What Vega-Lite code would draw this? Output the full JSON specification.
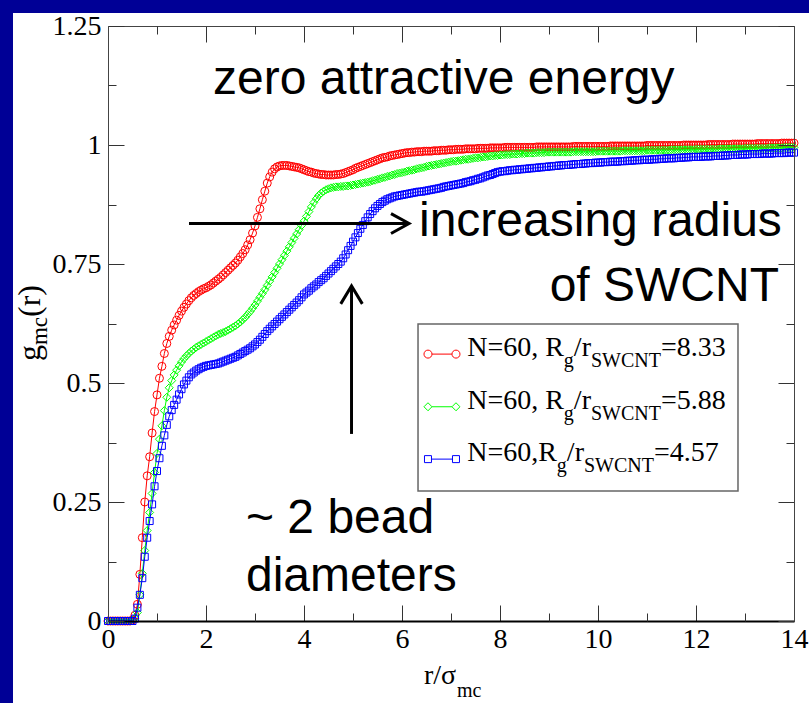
{
"$schema": "https://vega.github.io/schema/vega-lite/v6.json",
"width": 686, "height": 595,
"padding": {"left": 12, "top": 12, "right": 0, "bottom": 0},
"background": "#000096",
"config": {"view": {"stroke": null}, "font": "Liberation Serif"},
"datasets": {
"red": [{"r":0,"g":0},{"r":0.05,"g":0},{"r":0.1,"g":0},{"r":0.15,"g":0},{"r":0.2,"g":0},{"r":0.25,"g":0},{"r":0.3,"g":0},{"r":0.35,"g":0},{"r":0.4,"g":0},{"r":0.45,"g":0},
{"r":0.5,"g":0.002},{"r":0.55,"g":0.012},{"r":0.6,"g":0.035},{"r":0.65,"g":0.098},{"r":0.7,"g":0.175},{"r":0.75,"g":0.25},{"r":0.8,"g":0.305},{"r":0.85,"g":0.345},{"r":0.9,"g":0.395},{"r":0.95,"g":0.44},
{"r":1,"g":0.475},{"r":1.05,"g":0.51},{"r":1.1,"g":0.535},{"r":1.15,"g":0.562},{"r":1.2,"g":0.583},{"r":1.25,"g":0.598},{"r":1.3,"g":0.611},{"r":1.35,"g":0.622},{"r":1.4,"g":0.632},{"r":1.45,"g":0.642},
{"r":1.5,"g":0.651},{"r":1.55,"g":0.659},{"r":1.6,"g":0.666},{"r":1.65,"g":0.673},{"r":1.7,"g":0.679},{"r":1.75,"g":0.684},{"r":1.8,"g":0.688},{"r":1.85,"g":0.692},{"r":1.9,"g":0.695},{"r":1.95,"g":0.698},
{"r":2,"g":0.7},{"r":2.05,"g":0.703},{"r":2.1,"g":0.706},{"r":2.15,"g":0.71},{"r":2.2,"g":0.714},{"r":2.25,"g":0.718},{"r":2.3,"g":0.722},{"r":2.35,"g":0.727},{"r":2.4,"g":0.732},{"r":2.45,"g":0.737},
{"r":2.5,"g":0.742},{"r":2.55,"g":0.747},{"r":2.6,"g":0.752},{"r":2.65,"g":0.758},{"r":2.7,"g":0.765},{"r":2.75,"g":0.772},{"r":2.8,"g":0.78},{"r":2.85,"g":0.79},{"r":2.9,"g":0.801},{"r":2.95,"g":0.815},
{"r":3,"g":0.83},{"r":3.05,"g":0.848},{"r":3.1,"g":0.866},{"r":3.15,"g":0.885},{"r":3.2,"g":0.903},{"r":3.25,"g":0.92},{"r":3.3,"g":0.933},{"r":3.35,"g":0.943},{"r":3.4,"g":0.95},{"r":3.45,"g":0.954},
{"r":3.5,"g":0.956},{"r":3.55,"g":0.957},{"r":3.6,"g":0.957},{"r":3.65,"g":0.957},{"r":3.7,"g":0.956},{"r":3.75,"g":0.955},{"r":3.8,"g":0.954},{"r":3.85,"g":0.953},{"r":3.9,"g":0.952},{"r":3.95,"g":0.95},
{"r":4,"g":0.948},{"r":4.05,"g":0.946},{"r":4.1,"g":0.944},{"r":4.15,"g":0.943},{"r":4.2,"g":0.941},{"r":4.25,"g":0.94},{"r":4.3,"g":0.939},{"r":4.35,"g":0.938},{"r":4.4,"g":0.938},{"r":4.45,"g":0.937},
{"r":4.5,"g":0.937},{"r":4.55,"g":0.937},{"r":4.6,"g":0.937},{"r":4.65,"g":0.938},{"r":4.7,"g":0.938},{"r":4.75,"g":0.939},{"r":4.8,"g":0.94},{"r":4.85,"g":0.942},{"r":4.9,"g":0.944},{"r":4.95,"g":0.946},
{"r":5,"g":0.948},{"r":5.05,"g":0.951},{"r":5.1,"g":0.953},{"r":5.15,"g":0.955},{"r":5.2,"g":0.957},{"r":5.25,"g":0.959},{"r":5.3,"g":0.961},{"r":5.35,"g":0.963},{"r":5.4,"g":0.965},{"r":5.45,"g":0.967},
{"r":5.5,"g":0.969},{"r":5.55,"g":0.971},{"r":5.6,"g":0.973},{"r":5.65,"g":0.974},{"r":5.7,"g":0.975},{"r":5.75,"g":0.977},{"r":5.8,"g":0.978},{"r":5.85,"g":0.979},{"r":5.9,"g":0.98},{"r":5.95,"g":0.981},
{"r":6,"g":0.982},{"r":6.05,"g":0.983},{"r":6.1,"g":0.984},{"r":6.15,"g":0.984},{"r":6.2,"g":0.985},{"r":6.25,"g":0.985},{"r":6.3,"g":0.986},{"r":6.35,"g":0.986},{"r":6.4,"g":0.986},{"r":6.45,"g":0.987},
{"r":6.5,"g":0.987},{"r":6.55,"g":0.987},{"r":6.6,"g":0.987},{"r":6.65,"g":0.988},{"r":6.7,"g":0.988},{"r":6.75,"g":0.988},{"r":6.8,"g":0.989},{"r":6.85,"g":0.989},{"r":6.9,"g":0.989},{"r":6.95,"g":0.99},
{"r":7,"g":0.99},{"r":7.05,"g":0.99},{"r":7.1,"g":0.991},{"r":7.15,"g":0.991},{"r":7.2,"g":0.991},{"r":7.25,"g":0.991},{"r":7.3,"g":0.992},{"r":7.35,"g":0.992},{"r":7.4,"g":0.992},{"r":7.45,"g":0.992},
{"r":7.5,"g":0.992},{"r":7.55,"g":0.993},{"r":7.6,"g":0.993},{"r":7.65,"g":0.993},{"r":7.7,"g":0.993},{"r":7.75,"g":0.993},{"r":7.8,"g":0.994},{"r":7.85,"g":0.994},{"r":7.9,"g":0.994},{"r":7.95,"g":0.994},
{"r":8,"g":0.994},{"r":8.05,"g":0.994},{"r":8.1,"g":0.995},{"r":8.15,"g":0.995},{"r":8.2,"g":0.995},{"r":8.25,"g":0.995},{"r":8.3,"g":0.995},{"r":8.35,"g":0.995},{"r":8.4,"g":0.995},{"r":8.45,"g":0.995},
{"r":8.5,"g":0.995},{"r":8.55,"g":0.995},{"r":8.6,"g":0.995},{"r":8.65,"g":0.995},{"r":8.7,"g":0.995},{"r":8.75,"g":0.996},{"r":8.8,"g":0.996},{"r":8.85,"g":0.996},{"r":8.9,"g":0.996},{"r":8.95,"g":0.996},
{"r":9,"g":0.996},{"r":9.05,"g":0.996},{"r":9.1,"g":0.996},{"r":9.15,"g":0.996},{"r":9.2,"g":0.996},{"r":9.25,"g":0.996},{"r":9.3,"g":0.996},{"r":9.35,"g":0.996},{"r":9.4,"g":0.996},{"r":9.45,"g":0.996},
{"r":9.5,"g":0.997},{"r":9.55,"g":0.997},{"r":9.6,"g":0.997},{"r":9.65,"g":0.997},{"r":9.7,"g":0.997},{"r":9.75,"g":0.997},{"r":9.8,"g":0.997},{"r":9.85,"g":0.997},{"r":9.9,"g":0.997},{"r":9.95,"g":0.997},
{"r":10,"g":0.997},{"r":10.05,"g":0.997},{"r":10.1,"g":0.997},{"r":10.15,"g":0.997},{"r":10.2,"g":0.997},{"r":10.25,"g":0.998},{"r":10.3,"g":0.998},{"r":10.35,"g":0.998},{"r":10.4,"g":0.998},{"r":10.45,"g":0.998},
{"r":10.5,"g":0.998},{"r":10.55,"g":0.998},{"r":10.6,"g":0.998},{"r":10.65,"g":0.998},{"r":10.7,"g":0.998},{"r":10.75,"g":0.998},{"r":10.8,"g":0.998},{"r":10.85,"g":0.998},{"r":10.9,"g":0.998},{"r":10.95,"g":0.998},
{"r":11,"g":0.999},{"r":11.05,"g":0.999},{"r":11.1,"g":0.999},{"r":11.15,"g":0.999},{"r":11.2,"g":0.999},{"r":11.25,"g":0.999},{"r":11.3,"g":0.999},{"r":11.35,"g":0.999},{"r":11.4,"g":0.999},{"r":11.45,"g":0.999},
{"r":11.5,"g":0.999},{"r":11.55,"g":0.999},{"r":11.6,"g":0.999},{"r":11.65,"g":0.999},{"r":11.7,"g":0.999},{"r":11.75,"g":1},{"r":11.8,"g":1},{"r":11.85,"g":1},{"r":11.9,"g":1},{"r":11.95,"g":1},
{"r":12,"g":1},{"r":12.05,"g":1},{"r":12.1,"g":1},{"r":12.15,"g":1},{"r":12.2,"g":1},{"r":12.25,"g":1.001},{"r":12.3,"g":1.001},{"r":12.35,"g":1.001},{"r":12.4,"g":1.001},{"r":12.45,"g":1.001},
{"r":12.5,"g":1.001},{"r":12.55,"g":1.001},{"r":12.6,"g":1.001},{"r":12.65,"g":1.001},{"r":12.7,"g":1.001},{"r":12.75,"g":1.002},{"r":12.8,"g":1.002},{"r":12.85,"g":1.002},{"r":12.9,"g":1.002},{"r":12.95,"g":1.002},
{"r":13,"g":1.002},{"r":13.05,"g":1.002},{"r":13.1,"g":1.002},{"r":13.15,"g":1.002},{"r":13.2,"g":1.002},{"r":13.25,"g":1.003},{"r":13.3,"g":1.003},{"r":13.35,"g":1.003},{"r":13.4,"g":1.003},{"r":13.45,"g":1.003},
{"r":13.5,"g":1.003},{"r":13.55,"g":1.003},{"r":13.6,"g":1.003},{"r":13.65,"g":1.003},{"r":13.7,"g":1.003},{"r":13.75,"g":1.004},{"r":13.8,"g":1.004},{"r":13.85,"g":1.004},{"r":13.9,"g":1.004},{"r":13.95,"g":1.004},{"r":14,"g":1.004}],
"green": [{"r":0,"g":0},{"r":0.05,"g":0},{"r":0.1,"g":0},{"r":0.15,"g":0},{"r":0.2,"g":0},{"r":0.25,"g":0},{"r":0.3,"g":0},{"r":0.35,"g":0},{"r":0.4,"g":0},{"r":0.45,"g":0},
{"r":0.5,"g":0.001},{"r":0.55,"g":0.006},{"r":0.6,"g":0.018},{"r":0.65,"g":0.055},{"r":0.7,"g":0.1},{"r":0.75,"g":0.148},{"r":0.8,"g":0.19},{"r":0.85,"g":0.228},{"r":0.9,"g":0.268},{"r":0.95,"g":0.312},
{"r":1,"g":0.352},{"r":1.05,"g":0.382},{"r":1.1,"g":0.41},{"r":1.15,"g":0.442},{"r":1.2,"g":0.47},{"r":1.25,"g":0.49},{"r":1.3,"g":0.505},{"r":1.35,"g":0.517},{"r":1.4,"g":0.527},{"r":1.45,"g":0.536},
{"r":1.5,"g":0.544},{"r":1.55,"g":0.551},{"r":1.6,"g":0.557},{"r":1.65,"g":0.562},{"r":1.7,"g":0.567},{"r":1.75,"g":0.571},{"r":1.8,"g":0.575},{"r":1.85,"g":0.578},{"r":1.9,"g":0.581},{"r":1.95,"g":0.584},
{"r":2,"g":0.587},{"r":2.05,"g":0.59},{"r":2.1,"g":0.593},{"r":2.15,"g":0.596},{"r":2.2,"g":0.599},{"r":2.25,"g":0.602},{"r":2.3,"g":0.604},{"r":2.35,"g":0.606},{"r":2.4,"g":0.608},{"r":2.45,"g":0.611},
{"r":2.5,"g":0.614},{"r":2.55,"g":0.617},{"r":2.6,"g":0.62},{"r":2.65,"g":0.624},{"r":2.7,"g":0.628},{"r":2.75,"g":0.633},{"r":2.8,"g":0.638},{"r":2.85,"g":0.644},{"r":2.9,"g":0.65},{"r":2.95,"g":0.657},
{"r":3,"g":0.664},{"r":3.05,"g":0.672},{"r":3.1,"g":0.68},{"r":3.15,"g":0.688},{"r":3.2,"g":0.696},{"r":3.25,"g":0.705},{"r":3.3,"g":0.714},{"r":3.35,"g":0.723},{"r":3.4,"g":0.732},{"r":3.45,"g":0.741},
{"r":3.5,"g":0.75},{"r":3.55,"g":0.759},{"r":3.6,"g":0.768},{"r":3.65,"g":0.777},{"r":3.7,"g":0.786},{"r":3.75,"g":0.795},{"r":3.8,"g":0.804},{"r":3.85,"g":0.813},{"r":3.9,"g":0.822},{"r":3.95,"g":0.831},
{"r":4,"g":0.84},{"r":4.05,"g":0.85},{"r":4.1,"g":0.86},{"r":4.15,"g":0.87},{"r":4.2,"g":0.879},{"r":4.25,"g":0.887},{"r":4.3,"g":0.894},{"r":4.35,"g":0.899},{"r":4.4,"g":0.903},{"r":4.45,"g":0.906},
{"r":4.5,"g":0.908},{"r":4.55,"g":0.91},{"r":4.6,"g":0.911},{"r":4.65,"g":0.912},{"r":4.7,"g":0.912},{"r":4.75,"g":0.913},{"r":4.8,"g":0.913},{"r":4.85,"g":0.914},{"r":4.9,"g":0.914},{"r":4.95,"g":0.915},
{"r":5,"g":0.916},{"r":5.05,"g":0.917},{"r":5.1,"g":0.918},{"r":5.15,"g":0.919},{"r":5.2,"g":0.92},{"r":5.25,"g":0.921},{"r":5.3,"g":0.922},{"r":5.35,"g":0.923},{"r":5.4,"g":0.925},{"r":5.45,"g":0.926},
{"r":5.5,"g":0.928},{"r":5.55,"g":0.929},{"r":5.6,"g":0.931},{"r":5.65,"g":0.932},{"r":5.7,"g":0.934},{"r":5.75,"g":0.935},{"r":5.8,"g":0.937},{"r":5.85,"g":0.938},{"r":5.9,"g":0.94},{"r":5.95,"g":0.941},
{"r":6,"g":0.942},{"r":6.05,"g":0.943},{"r":6.1,"g":0.945},{"r":6.15,"g":0.946},{"r":6.2,"g":0.947},{"r":6.25,"g":0.948},{"r":6.3,"g":0.95},{"r":6.35,"g":0.951},{"r":6.4,"g":0.952},{"r":6.45,"g":0.953},
{"r":6.5,"g":0.955},{"r":6.55,"g":0.956},{"r":6.6,"g":0.957},{"r":6.65,"g":0.958},{"r":6.7,"g":0.959},{"r":6.75,"g":0.96},{"r":6.8,"g":0.961},{"r":6.85,"g":0.962},{"r":6.9,"g":0.963},{"r":6.95,"g":0.964},
{"r":7,"g":0.965},{"r":7.05,"g":0.966},{"r":7.1,"g":0.966},{"r":7.15,"g":0.967},{"r":7.2,"g":0.968},{"r":7.25,"g":0.969},{"r":7.3,"g":0.97},{"r":7.35,"g":0.97},{"r":7.4,"g":0.971},{"r":7.45,"g":0.972},
{"r":7.5,"g":0.973},{"r":7.55,"g":0.973},{"r":7.6,"g":0.974},{"r":7.65,"g":0.975},{"r":7.7,"g":0.975},{"r":7.75,"g":0.976},{"r":7.8,"g":0.977},{"r":7.85,"g":0.977},{"r":7.9,"g":0.978},{"r":7.95,"g":0.978},
{"r":8,"g":0.979},{"r":8.05,"g":0.979},{"r":8.1,"g":0.98},{"r":8.15,"g":0.98},{"r":8.2,"g":0.98},{"r":8.25,"g":0.981},{"r":8.3,"g":0.981},{"r":8.35,"g":0.981},{"r":8.4,"g":0.982},{"r":8.45,"g":0.982},
{"r":8.5,"g":0.982},{"r":8.55,"g":0.983},{"r":8.6,"g":0.983},{"r":8.65,"g":0.983},{"r":8.7,"g":0.983},{"r":8.75,"g":0.984},{"r":8.8,"g":0.984},{"r":8.85,"g":0.984},{"r":8.9,"g":0.984},{"r":8.95,"g":0.985},
{"r":9,"g":0.985},{"r":9.05,"g":0.985},{"r":9.1,"g":0.985},{"r":9.15,"g":0.985},{"r":9.2,"g":0.985},{"r":9.25,"g":0.985},{"r":9.3,"g":0.985},{"r":9.35,"g":0.985},{"r":9.4,"g":0.985},{"r":9.45,"g":0.985},
{"r":9.5,"g":0.986},{"r":9.55,"g":0.986},{"r":9.6,"g":0.986},{"r":9.65,"g":0.986},{"r":9.7,"g":0.986},{"r":9.75,"g":0.986},{"r":9.8,"g":0.986},{"r":9.85,"g":0.986},{"r":9.9,"g":0.986},{"r":9.95,"g":0.986},
{"r":10,"g":0.987},{"r":10.05,"g":0.987},{"r":10.1,"g":0.987},{"r":10.15,"g":0.987},{"r":10.2,"g":0.987},{"r":10.25,"g":0.987},{"r":10.3,"g":0.987},{"r":10.35,"g":0.987},{"r":10.4,"g":0.987},{"r":10.45,"g":0.987},
{"r":10.5,"g":0.988},{"r":10.55,"g":0.988},{"r":10.6,"g":0.988},{"r":10.65,"g":0.988},{"r":10.7,"g":0.988},{"r":10.75,"g":0.988},{"r":10.8,"g":0.988},{"r":10.85,"g":0.988},{"r":10.9,"g":0.988},{"r":10.95,"g":0.988},
{"r":11,"g":0.989},{"r":11.05,"g":0.989},{"r":11.1,"g":0.989},{"r":11.15,"g":0.989},{"r":11.2,"g":0.989},{"r":11.25,"g":0.989},{"r":11.3,"g":0.989},{"r":11.35,"g":0.989},{"r":11.4,"g":0.989},{"r":11.45,"g":0.989},
{"r":11.5,"g":0.99},{"r":11.55,"g":0.99},{"r":11.6,"g":0.99},{"r":11.65,"g":0.99},{"r":11.7,"g":0.99},{"r":11.75,"g":0.99},{"r":11.8,"g":0.99},{"r":11.85,"g":0.99},{"r":11.9,"g":0.99},{"r":11.95,"g":0.99},
{"r":12,"g":0.991},{"r":12.05,"g":0.991},{"r":12.1,"g":0.991},{"r":12.15,"g":0.991},{"r":12.2,"g":0.991},{"r":12.25,"g":0.991},{"r":12.3,"g":0.991},{"r":12.35,"g":0.991},{"r":12.4,"g":0.991},{"r":12.45,"g":0.991},
{"r":12.5,"g":0.992},{"r":12.55,"g":0.992},{"r":12.6,"g":0.992},{"r":12.65,"g":0.992},{"r":12.7,"g":0.992},{"r":12.75,"g":0.992},{"r":12.8,"g":0.992},{"r":12.85,"g":0.992},{"r":12.9,"g":0.992},{"r":12.95,"g":0.992},
{"r":13,"g":0.993},{"r":13.05,"g":0.993},{"r":13.1,"g":0.993},{"r":13.15,"g":0.993},{"r":13.2,"g":0.993},{"r":13.25,"g":0.993},{"r":13.3,"g":0.993},{"r":13.35,"g":0.993},{"r":13.4,"g":0.993},{"r":13.45,"g":0.993},
{"r":13.5,"g":0.994},{"r":13.55,"g":0.994},{"r":13.6,"g":0.994},{"r":13.65,"g":0.994},{"r":13.7,"g":0.994},{"r":13.75,"g":0.994},{"r":13.8,"g":0.995},{"r":13.85,"g":0.995},{"r":13.9,"g":0.995},{"r":13.95,"g":0.995},{"r":14,"g":0.995}],
"blue": [{"r":0,"g":0},{"r":0.05,"g":0},{"r":0.1,"g":0},{"r":0.15,"g":0},{"r":0.2,"g":0},{"r":0.25,"g":0},{"r":0.3,"g":0},{"r":0.35,"g":0},{"r":0.4,"g":0},{"r":0.45,"g":0},
{"r":0.5,"g":0},{"r":0.55,"g":0.005},{"r":0.6,"g":0.028},{"r":0.65,"g":0.055},{"r":0.7,"g":0.09},{"r":0.75,"g":0.135},{"r":0.8,"g":0.175},{"r":0.85,"g":0.21},{"r":0.9,"g":0.245},{"r":0.95,"g":0.283},
{"r":1,"g":0.315},{"r":1.05,"g":0.342},{"r":1.1,"g":0.368},{"r":1.15,"g":0.39},{"r":1.2,"g":0.412},{"r":1.25,"g":0.43},{"r":1.3,"g":0.443},{"r":1.35,"g":0.454},{"r":1.4,"g":0.465},{"r":1.45,"g":0.476},
{"r":1.5,"g":0.487},{"r":1.55,"g":0.497},{"r":1.6,"g":0.505},{"r":1.65,"g":0.512},{"r":1.7,"g":0.518},{"r":1.75,"g":0.522},{"r":1.8,"g":0.526},{"r":1.85,"g":0.529},{"r":1.9,"g":0.532},{"r":1.95,"g":0.534},
{"r":2,"g":0.536},{"r":2.05,"g":0.537},{"r":2.1,"g":0.538},{"r":2.15,"g":0.539},{"r":2.2,"g":0.54},{"r":2.25,"g":0.541},{"r":2.3,"g":0.543},{"r":2.35,"g":0.545},{"r":2.4,"g":0.547},{"r":2.45,"g":0.549},
{"r":2.5,"g":0.551},{"r":2.55,"g":0.553},{"r":2.6,"g":0.555},{"r":2.65,"g":0.558},{"r":2.7,"g":0.561},{"r":2.75,"g":0.564},{"r":2.8,"g":0.567},{"r":2.85,"g":0.57},{"r":2.9,"g":0.573},{"r":2.95,"g":0.577},
{"r":3,"g":0.581},{"r":3.05,"g":0.586},{"r":3.1,"g":0.591},{"r":3.15,"g":0.597},{"r":3.2,"g":0.603},{"r":3.25,"g":0.609},{"r":3.3,"g":0.614},{"r":3.35,"g":0.619},{"r":3.4,"g":0.624},{"r":3.45,"g":0.629},
{"r":3.5,"g":0.634},{"r":3.55,"g":0.639},{"r":3.6,"g":0.644},{"r":3.65,"g":0.649},{"r":3.7,"g":0.654},{"r":3.75,"g":0.659},{"r":3.8,"g":0.664},{"r":3.85,"g":0.669},{"r":3.9,"g":0.674},{"r":3.95,"g":0.68},
{"r":4,"g":0.686},{"r":4.05,"g":0.69},{"r":4.1,"g":0.694},{"r":4.15,"g":0.699},{"r":4.2,"g":0.703},{"r":4.25,"g":0.707},{"r":4.3,"g":0.712},{"r":4.35,"g":0.716},{"r":4.4,"g":0.72},{"r":4.45,"g":0.725},
{"r":4.5,"g":0.73},{"r":4.55,"g":0.735},{"r":4.6,"g":0.74},{"r":4.65,"g":0.745},{"r":4.7,"g":0.75},{"r":4.75,"g":0.755},{"r":4.8,"g":0.762},{"r":4.85,"g":0.77},{"r":4.9,"g":0.779},{"r":4.95,"g":0.788},
{"r":5,"g":0.797},{"r":5.05,"g":0.806},{"r":5.1,"g":0.815},{"r":5.15,"g":0.824},{"r":5.2,"g":0.832},{"r":5.25,"g":0.84},{"r":5.3,"g":0.848},{"r":5.35,"g":0.855},{"r":5.4,"g":0.861},{"r":5.45,"g":0.867},
{"r":5.5,"g":0.872},{"r":5.55,"g":0.876},{"r":5.6,"g":0.88},{"r":5.65,"g":0.883},{"r":5.7,"g":0.886},{"r":5.75,"g":0.888},{"r":5.8,"g":0.89},{"r":5.85,"g":0.892},{"r":5.9,"g":0.893},{"r":5.95,"g":0.894},
{"r":6,"g":0.895},{"r":6.05,"g":0.896},{"r":6.1,"g":0.897},{"r":6.15,"g":0.898},{"r":6.2,"g":0.899},{"r":6.25,"g":0.9},{"r":6.3,"g":0.901},{"r":6.35,"g":0.902},{"r":6.4,"g":0.902},{"r":6.45,"g":0.903},
{"r":6.5,"g":0.904},{"r":6.55,"g":0.905},{"r":6.6,"g":0.906},{"r":6.65,"g":0.907},{"r":6.7,"g":0.908},{"r":6.75,"g":0.909},{"r":6.8,"g":0.91},{"r":6.85,"g":0.912},{"r":6.9,"g":0.913},{"r":6.95,"g":0.914},
{"r":7,"g":0.915},{"r":7.05,"g":0.916},{"r":7.1,"g":0.917},{"r":7.15,"g":0.918},{"r":7.2,"g":0.919},{"r":7.25,"g":0.92},{"r":7.3,"g":0.922},{"r":7.35,"g":0.923},{"r":7.4,"g":0.924},{"r":7.45,"g":0.926},
{"r":7.5,"g":0.927},{"r":7.55,"g":0.929},{"r":7.6,"g":0.93},{"r":7.65,"g":0.932},{"r":7.7,"g":0.934},{"r":7.75,"g":0.936},{"r":7.8,"g":0.937},{"r":7.85,"g":0.939},{"r":7.9,"g":0.941},{"r":7.95,"g":0.943},
{"r":8,"g":0.944},{"r":8.05,"g":0.945},{"r":8.1,"g":0.945},{"r":8.15,"g":0.946},{"r":8.2,"g":0.947},{"r":8.25,"g":0.947},{"r":8.3,"g":0.948},{"r":8.35,"g":0.948},{"r":8.4,"g":0.949},{"r":8.45,"g":0.949},
{"r":8.5,"g":0.95},{"r":8.55,"g":0.95},{"r":8.6,"g":0.951},{"r":8.65,"g":0.951},{"r":8.7,"g":0.952},{"r":8.75,"g":0.952},{"r":8.8,"g":0.953},{"r":8.85,"g":0.953},{"r":8.9,"g":0.954},{"r":8.95,"g":0.954},
{"r":9,"g":0.955},{"r":9.05,"g":0.955},{"r":9.1,"g":0.956},{"r":9.15,"g":0.956},{"r":9.2,"g":0.957},{"r":9.25,"g":0.957},{"r":9.3,"g":0.958},{"r":9.35,"g":0.958},{"r":9.4,"g":0.958},{"r":9.45,"g":0.959},
{"r":9.5,"g":0.959},{"r":9.55,"g":0.96},{"r":9.6,"g":0.96},{"r":9.65,"g":0.96},{"r":9.7,"g":0.961},{"r":9.75,"g":0.961},{"r":9.8,"g":0.962},{"r":9.85,"g":0.962},{"r":9.9,"g":0.962},{"r":9.95,"g":0.963},
{"r":10,"g":0.963},{"r":10.05,"g":0.963},{"r":10.1,"g":0.964},{"r":10.15,"g":0.964},{"r":10.2,"g":0.964},{"r":10.25,"g":0.965},{"r":10.3,"g":0.965},{"r":10.35,"g":0.965},{"r":10.4,"g":0.965},{"r":10.45,"g":0.966},
{"r":10.5,"g":0.966},{"r":10.55,"g":0.966},{"r":10.6,"g":0.967},{"r":10.65,"g":0.967},{"r":10.7,"g":0.967},{"r":10.75,"g":0.968},{"r":10.8,"g":0.968},{"r":10.85,"g":0.968},{"r":10.9,"g":0.969},{"r":10.95,"g":0.969},
{"r":11,"g":0.969},{"r":11.05,"g":0.969},{"r":11.1,"g":0.97},{"r":11.15,"g":0.97},{"r":11.2,"g":0.97},{"r":11.25,"g":0.971},{"r":11.3,"g":0.971},{"r":11.35,"g":0.971},{"r":11.4,"g":0.972},{"r":11.45,"g":0.972},
{"r":11.5,"g":0.972},{"r":11.55,"g":0.972},{"r":11.6,"g":0.973},{"r":11.65,"g":0.973},{"r":11.7,"g":0.973},{"r":11.75,"g":0.974},{"r":11.8,"g":0.974},{"r":11.85,"g":0.974},{"r":11.9,"g":0.975},{"r":11.95,"g":0.975},
{"r":12,"g":0.975},{"r":12.05,"g":0.975},{"r":12.1,"g":0.975},{"r":12.15,"g":0.976},{"r":12.2,"g":0.976},{"r":12.25,"g":0.976},{"r":12.3,"g":0.976},{"r":12.35,"g":0.977},{"r":12.4,"g":0.977},{"r":12.45,"g":0.977},
{"r":12.5,"g":0.977},{"r":12.55,"g":0.978},{"r":12.6,"g":0.978},{"r":12.65,"g":0.978},{"r":12.7,"g":0.979},{"r":12.75,"g":0.979},{"r":12.8,"g":0.979},{"r":12.85,"g":0.979},{"r":12.9,"g":0.98},{"r":12.95,"g":0.98},
{"r":13,"g":0.98},{"r":13.05,"g":0.98},{"r":13.1,"g":0.981},{"r":13.15,"g":0.981},{"r":13.2,"g":0.981},{"r":13.25,"g":0.981},{"r":13.3,"g":0.981},{"r":13.35,"g":0.982},{"r":13.4,"g":0.982},{"r":13.45,"g":0.982},
{"r":13.5,"g":0.982},{"r":13.55,"g":0.982},{"r":13.6,"g":0.983},{"r":13.65,"g":0.983},{"r":13.7,"g":0.983},{"r":13.75,"g":0.983},{"r":13.8,"g":0.983},{"r":13.85,"g":0.984},{"r":13.9,"g":0.984},{"r":13.95,"g":0.984},{"r":14,"g":0.984}]
},
"layer": [
{"data": {"values": [{}]}, "mark": {"type": "rect", "fill": "white"},
 "encoding": {"x": {"datum": -1.9388, "type": "quantitative", "axis": null}, "x2": {"datum": 14.3265}, "y": {"datum": -0.1744, "type": "quantitative", "axis": null}, "y2": {"datum": 1.2773}}},
{"data": {"name": "red"}, "mark": {"type": "line", "color": "#ff0000", "strokeWidth": 1},
 "encoding": {
  "x": {"field": "r", "type": "quantitative", "scale": {"domain": [0, 14], "nice": false, "zero": false},
        "axis": {"orient": "bottom", "values": [0,2,4,6,8,10,12,14], "format": "d", "title": null, "grid": false, "tickSize": -16, "tickColor": "#333333", "tickWidth": 1, "domainColor": "#000000", "domainWidth": 2, "labelFont": "Liberation Serif", "labelFontSize": 28, "labelColor": "#000000", "labelPadding": 20, "labelFlush": false, "labelOverlap": false, "zindex": 1}},
  "y": {"field": "g", "type": "quantitative", "scale": {"domain": [0, 1.25], "nice": false, "zero": false},
        "axis": {"orient": "left", "values": [0,0.25,0.5,0.75,1,1.25], "format": ".3~g", "title": null, "grid": false, "tickSize": -16, "tickColor": "#333333", "tickWidth": 1, "domainColor": "#444444", "domainWidth": 1, "labelFont": "Liberation Serif", "labelFontSize": 28, "labelColor": "#000000", "labelPadding": 23, "labelFlush": false, "labelOverlap": false, "zindex": 1}}}},
{"data": {"name": "red"}, "mark": {"type": "point", "shape": "circle", "filled": false, "color": "#ff0000", "size": 64, "strokeWidth": 1, "opacity": 1},
 "encoding": {
  "x": {"field": "r", "type": "quantitative", "axis": {"orient": "bottom", "values": [1,3,5,7,9,11,13], "labels": false, "domain": false, "title": null, "grid": false, "tickSize": -8, "tickColor": "#333333", "tickWidth": 1, "zindex": 1}},
  "y": {"field": "g", "type": "quantitative", "axis": {"orient": "left", "values": [0.125,0.375,0.625,0.875,1.125], "labels": false, "domain": false, "title": null, "grid": false, "tickSize": -8, "tickColor": "#333333", "tickWidth": 1, "zindex": 1}}}},
{"data": {"name": "green"}, "mark": {"type": "line", "color": "#00ff00", "strokeWidth": 1},
 "encoding": {
  "x": {"field": "r", "type": "quantitative", "axis": {"orient": "top", "values": [0,2,4,6,8,10,12,14], "labels": false, "title": null, "grid": false, "tickSize": -16, "tickColor": "#333333", "tickWidth": 1, "domainColor": "#444444", "domainWidth": 1, "zindex": 1}},
  "y": {"field": "g", "type": "quantitative", "axis": {"orient": "right", "values": [0,0.25,0.5,0.75,1,1.25], "labels": false, "title": null, "grid": false, "tickSize": -16, "tickColor": "#333333", "tickWidth": 1, "domainColor": "#444444", "domainWidth": 1, "zindex": 1}}}},
{"data": {"name": "green"}, "mark": {"type": "point", "shape": "diamond", "filled": false, "color": "#00ff00", "size": 64, "strokeWidth": 1, "opacity": 1},
 "encoding": {
  "x": {"field": "r", "type": "quantitative", "axis": {"orient": "top", "values": [1,3,5,7,9,11,13], "labels": false, "domain": false, "title": null, "grid": false, "tickSize": -8, "tickColor": "#333333", "tickWidth": 1, "zindex": 1}},
  "y": {"field": "g", "type": "quantitative", "axis": {"orient": "right", "values": [0.125,0.375,0.625,0.875,1.125], "labels": false, "domain": false, "title": null, "grid": false, "tickSize": -8, "tickColor": "#333333", "tickWidth": 1, "zindex": 1}}}},
{"data": {"name": "blue"}, "mark": {"type": "line", "color": "#0000ff", "strokeWidth": 1},
 "encoding": {"x": {"field": "r", "type": "quantitative", "axis": null}, "y": {"field": "g", "type": "quantitative", "axis": null}}},
{"data": {"name": "blue"}, "mark": {"type": "point", "shape": "square", "filled": false, "color": "#0000ff", "size": 49, "strokeWidth": 1, "opacity": 1},
 "encoding": {"x": {"field": "r", "type": "quantitative", "axis": null}, "y": {"field": "g", "type": "quantitative", "axis": null}}},
{"data": {"values": [{}]}, "mark": {"type": "rect", "fill": "white", "stroke": "#666666", "strokeWidth": 1.5},
 "encoding": {"x": {"datum": 6.327, "type": "quantitative", "axis": null}, "x2": {"datum": 12.857}, "y": {"datum": 0.273, "type": "quantitative", "axis": null}, "y2": {"datum": 0.624}}},
{"data": {"values": [{}]}, "mark": {"type": "point", "shape": "M-1.286,0A0.286,0.286,0,1,1,-0.714,0A0.286,0.286,0,1,1,-1.286,0M-0.714,0L0.714,0M0.714,0A0.286,0.286,0,1,1,1.286,0A0.286,0.286,0,1,1,0.714,0", "filled": false, "color": "#ff0000", "size": 784, "strokeWidth": 1, "opacity": 1},
 "encoding": {"x": {"datum": 6.816, "type": "quantitative", "axis": null}, "y": {"datum": 0.5607, "type": "quantitative", "axis": null}}},
{"data": {"values": [{}]}, "mark": {"type": "point", "shape": "M-1.286,0L-1,-0.286L-0.714,0L-1,0.286ZM-0.714,0L0.714,0M0.714,0L1,-0.286L1.286,0L1,0.286Z", "filled": false, "color": "#00ff00", "size": 784, "strokeWidth": 1, "opacity": 1},
 "encoding": {"x": {"datum": 6.816, "type": "quantitative", "axis": null}, "y": {"datum": 0.4501, "type": "quantitative", "axis": null}}},
{"data": {"values": [{}]}, "mark": {"type": "point", "shape": "M-1.25,-0.25L-0.75,-0.25L-0.75,0.25L-1.25,0.25ZM-0.75,0L0.75,0M0.75,-0.25L1.25,-0.25L1.25,0.25L0.75,0.25Z", "filled": false, "color": "#0000ff", "size": 784, "strokeWidth": 1, "opacity": 1},
 "encoding": {"x": {"datum": 6.816, "type": "quantitative", "axis": null}, "y": {"datum": 0.3401, "type": "quantitative", "axis": null}}},
{"data": {"values": [{}]}, "mark": {"type": "text", "text": "N=60, R", "font": "Liberation Serif", "fontSize": 28, "align": "left", "baseline": "alphabetic", "color": "#000000"},
 "encoding": {"x": {"datum": 7.33, "type": "quantitative", "axis": null}, "y": {"datum": 0.5567, "type": "quantitative", "axis": null}}},
{"data": {"values": [{}]}, "mark": {"type": "text", "text": "g", "font": "Liberation Serif", "fontSize": 20, "align": "left", "baseline": "alphabetic", "dx": 96.7, "dy": 11, "color": "#000000"},
 "encoding": {"x": {"datum": 7.33, "type": "quantitative", "axis": null}, "y": {"datum": 0.5567, "type": "quantitative", "axis": null}}},
{"data": {"values": [{}]}, "mark": {"type": "text", "text": "/r", "font": "Liberation Serif", "fontSize": 28, "align": "left", "baseline": "alphabetic", "dx": 106.7, "color": "#000000"},
 "encoding": {"x": {"datum": 7.33, "type": "quantitative", "axis": null}, "y": {"datum": 0.5567, "type": "quantitative", "axis": null}}},
{"data": {"values": [{}]}, "mark": {"type": "text", "text": "SWCNT", "font": "Liberation Serif", "fontSize": 20, "align": "left", "baseline": "alphabetic", "dx": 123.8, "dy": 11, "color": "#000000"},
 "encoding": {"x": {"datum": 7.33, "type": "quantitative", "axis": null}, "y": {"datum": 0.5567, "type": "quantitative", "axis": null}}},
{"data": {"values": [{}]}, "mark": {"type": "text", "text": "=8.33", "font": "Liberation Serif", "fontSize": 28, "align": "left", "baseline": "alphabetic", "dx": 193.8, "color": "#000000"},
 "encoding": {"x": {"datum": 7.33, "type": "quantitative", "axis": null}, "y": {"datum": 0.5567, "type": "quantitative", "axis": null}}},
{"data": {"values": [{}]}, "mark": {"type": "text", "text": "N=60, R", "font": "Liberation Serif", "fontSize": 28, "align": "left", "baseline": "alphabetic", "color": "#000000"},
 "encoding": {"x": {"datum": 7.33, "type": "quantitative", "axis": null}, "y": {"datum": 0.4461, "type": "quantitative", "axis": null}}},
{"data": {"values": [{}]}, "mark": {"type": "text", "text": "g", "font": "Liberation Serif", "fontSize": 20, "align": "left", "baseline": "alphabetic", "dx": 96.7, "dy": 11, "color": "#000000"},
 "encoding": {"x": {"datum": 7.33, "type": "quantitative", "axis": null}, "y": {"datum": 0.4461, "type": "quantitative", "axis": null}}},
{"data": {"values": [{}]}, "mark": {"type": "text", "text": "/r", "font": "Liberation Serif", "fontSize": 28, "align": "left", "baseline": "alphabetic", "dx": 106.7, "color": "#000000"},
 "encoding": {"x": {"datum": 7.33, "type": "quantitative", "axis": null}, "y": {"datum": 0.4461, "type": "quantitative", "axis": null}}},
{"data": {"values": [{}]}, "mark": {"type": "text", "text": "SWCNT", "font": "Liberation Serif", "fontSize": 20, "align": "left", "baseline": "alphabetic", "dx": 123.8, "dy": 11, "color": "#000000"},
 "encoding": {"x": {"datum": 7.33, "type": "quantitative", "axis": null}, "y": {"datum": 0.4461, "type": "quantitative", "axis": null}}},
{"data": {"values": [{}]}, "mark": {"type": "text", "text": "=5.88", "font": "Liberation Serif", "fontSize": 28, "align": "left", "baseline": "alphabetic", "dx": 193.8, "color": "#000000"},
 "encoding": {"x": {"datum": 7.33, "type": "quantitative", "axis": null}, "y": {"datum": 0.4461, "type": "quantitative", "axis": null}}},
{"data": {"values": [{}]}, "mark": {"type": "text", "text": "N=60,R", "font": "Liberation Serif", "fontSize": 28, "align": "left", "baseline": "alphabetic", "color": "#000000"},
 "encoding": {"x": {"datum": 7.33, "type": "quantitative", "axis": null}, "y": {"datum": 0.3361, "type": "quantitative", "axis": null}}},
{"data": {"values": [{}]}, "mark": {"type": "text", "text": "g", "font": "Liberation Serif", "fontSize": 20, "align": "left", "baseline": "alphabetic", "dx": 89.7, "dy": 11, "color": "#000000"},
 "encoding": {"x": {"datum": 7.33, "type": "quantitative", "axis": null}, "y": {"datum": 0.3361, "type": "quantitative", "axis": null}}},
{"data": {"values": [{}]}, "mark": {"type": "text", "text": "/r", "font": "Liberation Serif", "fontSize": 28, "align": "left", "baseline": "alphabetic", "dx": 99.7, "color": "#000000"},
 "encoding": {"x": {"datum": 7.33, "type": "quantitative", "axis": null}, "y": {"datum": 0.3361, "type": "quantitative", "axis": null}}},
{"data": {"values": [{}]}, "mark": {"type": "text", "text": "SWCNT", "font": "Liberation Serif", "fontSize": 20, "align": "left", "baseline": "alphabetic", "dx": 116.8, "dy": 11, "color": "#000000"},
 "encoding": {"x": {"datum": 7.33, "type": "quantitative", "axis": null}, "y": {"datum": 0.3361, "type": "quantitative", "axis": null}}},
{"data": {"values": [{}]}, "mark": {"type": "text", "text": "=4.57", "font": "Liberation Serif", "fontSize": 28, "align": "left", "baseline": "alphabetic", "dx": 186.8, "color": "#000000"},
 "encoding": {"x": {"datum": 7.33, "type": "quantitative", "axis": null}, "y": {"datum": 0.3361, "type": "quantitative", "axis": null}}},
{"data": {"values": [{}]}, "mark": {"type": "rule", "color": "#000000", "strokeWidth": 3},
 "encoding": {"x": {"datum": 1.653, "type": "quantitative", "axis": null}, "x2": {"datum": 6.12}, "y": {"datum": 0.835, "type": "quantitative", "axis": null}}},
{"data": {"values": [{}]}, "mark": {"type": "point", "shape": "M-1,-0.55L0,0L-1,0.55", "filled": false, "color": "#000000", "size": 1296, "strokeWidth": 3, "opacity": 1},
 "encoding": {"x": {"datum": 6.143, "type": "quantitative", "axis": null}, "y": {"datum": 0.835, "type": "quantitative", "axis": null}}},
{"data": {"values": [{}]}, "mark": {"type": "rule", "color": "#000000", "strokeWidth": 3},
 "encoding": {"x": {"datum": 4.97, "type": "quantitative", "axis": null}, "y": {"datum": 0.393, "type": "quantitative", "axis": null}, "y2": {"datum": 0.7}}},
{"data": {"values": [{}]}, "mark": {"type": "point", "shape": "M-0.6,1L0,0L0.6,1", "filled": false, "color": "#000000", "size": 1296, "strokeWidth": 3, "opacity": 1},
 "encoding": {"x": {"datum": 4.97, "type": "quantitative", "axis": null}, "y": {"datum": 0.704, "type": "quantitative", "axis": null}}},
{"data": {"values": [{}]}, "mark": {"type": "text", "text": "zero attractive energy", "font": "Liberation Sans", "fontSize": 48, "align": "left", "baseline": "alphabetic", "color": "#000000"},
 "encoding": {"x": {"datum": 2.143, "type": "quantitative", "axis": null}, "y": {"datum": 1.1071, "type": "quantitative", "axis": null}}},
{"data": {"values": [{}]}, "mark": {"type": "text", "text": "increasing radius", "font": "Liberation Sans", "fontSize": 48, "align": "left", "baseline": "alphabetic", "color": "#000000"},
 "encoding": {"x": {"datum": 6.347, "type": "quantitative", "axis": null}, "y": {"datum": 0.8088, "type": "quantitative", "axis": null}}},
{"data": {"values": [{}]}, "mark": {"type": "text", "text": "of SWCNT", "font": "Liberation Sans", "fontSize": 48, "align": "right", "baseline": "alphabetic", "color": "#000000"},
 "encoding": {"x": {"datum": 13.694, "type": "quantitative", "axis": null}, "y": {"datum": 0.6723, "type": "quantitative", "axis": null}}},
{"data": {"values": [{}]}, "mark": {"type": "text", "text": "~ 2 bead", "font": "Liberation Sans", "fontSize": 48, "align": "left", "baseline": "alphabetic", "color": "#000000"},
 "encoding": {"x": {"datum": 2.816, "type": "quantitative", "axis": null}, "y": {"datum": 0.1849, "type": "quantitative", "axis": null}}},
{"data": {"values": [{}]}, "mark": {"type": "text", "text": "diameters", "font": "Liberation Sans", "fontSize": 48, "align": "left", "baseline": "alphabetic", "color": "#000000"},
 "encoding": {"x": {"datum": 2.816, "type": "quantitative", "axis": null}, "y": {"datum": 0.063, "type": "quantitative", "axis": null}}},
{"data": {"values": [{}]}, "mark": {"type": "text", "text": "r/σ", "font": "Liberation Serif", "fontSize": 28, "align": "left", "baseline": "alphabetic", "color": "#000000"},
 "encoding": {"x": {"datum": 6.449, "type": "quantitative", "axis": null}, "y": {"datum": -0.1324, "type": "quantitative", "axis": null}}},
{"data": {"values": [{}]}, "mark": {"type": "text", "text": "mc", "font": "Liberation Serif", "fontSize": 20, "align": "left", "baseline": "alphabetic", "dx": 33, "dy": 13, "color": "#000000"},
 "encoding": {"x": {"datum": 6.449, "type": "quantitative", "axis": null}, "y": {"datum": -0.1324, "type": "quantitative", "axis": null}}},
{"data": {"values": [{}]}, "mark": {"type": "text", "text": "g", "font": "Liberation Serif", "fontSize": 32, "align": "left", "baseline": "alphabetic", "angle": 270, "color": "#000000"},
 "encoding": {"x": {"datum": -1.388, "type": "quantitative", "axis": null}, "y": {"datum": 0.546, "type": "quantitative", "axis": null}}},
{"data": {"values": [{}]}, "mark": {"type": "text", "text": "mc", "font": "Liberation Serif", "fontSize": 23, "align": "left", "baseline": "alphabetic", "angle": 270, "dx": 16, "dy": 7, "color": "#000000"},
 "encoding": {"x": {"datum": -1.388, "type": "quantitative", "axis": null}, "y": {"datum": 0.546, "type": "quantitative", "axis": null}}},
{"data": {"values": [{}]}, "mark": {"type": "text", "text": "(r)", "font": "Liberation Serif", "fontSize": 32, "align": "left", "baseline": "alphabetic", "angle": 270, "dx": 44.1, "color": "#000000"},
 "encoding": {"x": {"datum": -1.388, "type": "quantitative", "axis": null}, "y": {"datum": 0.546, "type": "quantitative", "axis": null}}}
],
"resolve": {"axis": {"x": "independent", "y": "independent"}}
}
